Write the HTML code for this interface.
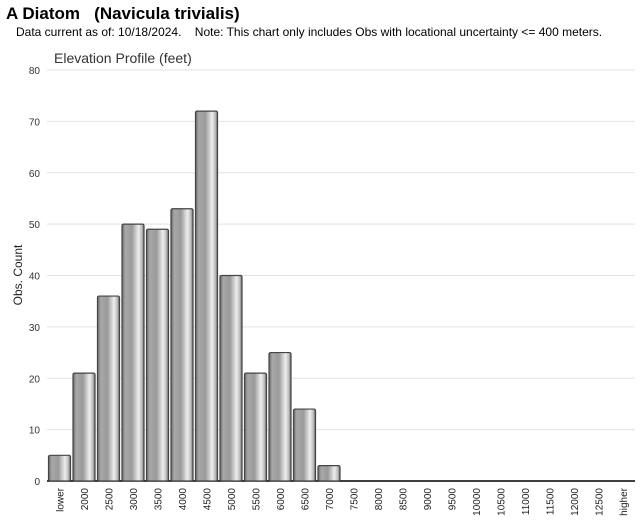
<!DOCTYPE html>
<html><head><meta charset="utf-8">
<style>
body{margin:0;background:#fff;width:640px;height:523px;overflow:hidden;font-family:"Liberation Sans",sans-serif}
#title{position:absolute;left:6px;top:4px;font-size:17px;font-weight:bold;color:#000}
#note{position:absolute;left:16px;top:25px;font-size:12px;color:#000}
svg{position:absolute;left:0;top:0}
</style></head><body>
<div id="title">A Diatom &nbsp; (Navicula trivialis)</div>
<div id="note">Data current as of: 10/18/2024. &nbsp;&nbsp; Note: This chart only includes Obs with locational uncertainty &lt;= 400 meters.</div>
<svg id="chart" width="640" height="523">
<defs>
<linearGradient id="bg" x1="0" x2="1" y1="0" y2="0">
<stop offset="0" stop-color="#6a6a6a"/><stop offset="0.15" stop-color="#a8a8a8"/><stop offset="0.45" stop-color="#9a9a9a"/><stop offset="0.75" stop-color="#eeeeee"/><stop offset="0.9" stop-color="#bdbdbd"/><stop offset="1" stop-color="#6a6a6a"/>
</linearGradient>
</defs>
</svg>
<script>
const categories=["lower","2000","2500","3000","3500","4000","4500","5000","5500","6000","6500","7000","7500","8000","8500","9000","9500","10000","10500","11000","11500","12000","12500","higher"];
const counts=[5,21,36,50,49,53,72,40,21,25,14,3,0,0,0,0,0,0,0,0,0,0,0,0];
const yTicks=[0,10,20,30,40,50,60,70,80];
const svg=document.getElementById('chart');
const NS='http://www.w3.org/2000/svg';
const X0=47,X1=635,Y0=481,Y1=70,YMAX=80;
const bw=(X1-X0)/categories.length;
function y(v){return Y0-(v/YMAX)*(Y0-Y1);}
function x(i){return X0+i*bw;}
function mk(t,a){const e=document.createElementNS(NS,t);for(const k in a)e.setAttribute(k,a[k]);svg.appendChild(e);return e;}
yTicks.forEach(t=>{
  const g=mk('line',{x1:X0,x2:X1,y1:y(t),y2:y(t),stroke:t===0?'#000':'#e2e2e2','stroke-width':t===0?1.5:1});
  
  
  const l=mk('text',{x:40,y:y(t)+4,'text-anchor':'end','font-size':10,fill:'#333'});
  l.textContent=t;
  
  
});
categories.forEach((c,i)=>{
  const v=counts[i];
  if(v>0){
    const r=mk('rect',{x:x(i)+1.5,y:y(v),width:bw-2.5,height:Y0-y(v),fill:'url(#bg)',stroke:'#444','stroke-width':1.2,rx:1.5});
    
    
  }
  const cx=x(i)+bw/2+4;
  const t=mk('text',{x:cx,y:488,'text-anchor':'end','font-size':10,fill:'#222',transform:`rotate(-90 ${cx} 488)`});
  t.textContent=c;
  
  
});
const st=mk('text',{x:54,y:63,'font-size':14,fill:'#333'});
st.textContent='Elevation Profile (feet)';


const yt=mk('text',{x:22,y:275,'text-anchor':'middle','font-size':12,fill:'#222',transform:'rotate(-90 22 275)'});
yt.textContent='Obs. Count';


</script>
</body></html>
